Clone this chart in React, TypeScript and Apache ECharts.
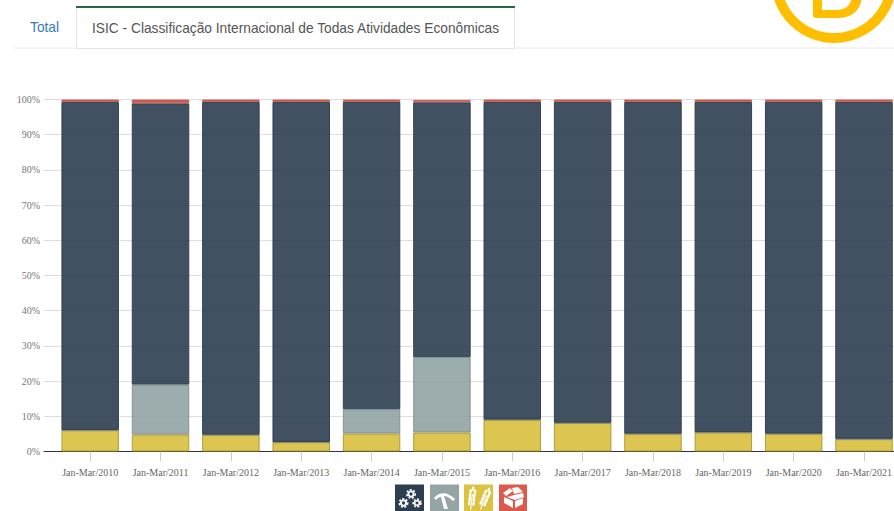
import React, { useEffect, useRef } from "react";
import * as echarts from "echarts";

const categories = ["Jan-Mar/2010","Jan-Mar/2011","Jan-Mar/2012","Jan-Mar/2013","Jan-Mar/2014","Jan-Mar/2015","Jan-Mar/2016","Jan-Mar/2017","Jan-Mar/2018","Jan-Mar/2019","Jan-Mar/2020","Jan-Mar/2021"];
const agriculture = [6.0, 4.8, 4.7, 2.6, 5.1, 5.4, 9.0, 8.1, 5.0, 5.4, 5.0, 3.5];
const mining = [0.1, 14.2, 0.1, 0.1, 6.9, 21.4, 0.1, 0.1, 0.1, 0.1, 0.1, 0.1];
const industry = [93.2, 79.9, 94.5, 96.6, 87.3, 72.4, 90.2, 91.1, 94.2, 93.8, 94.2, 95.7];
const other = [0.7, 1.1, 0.7, 0.7, 0.7, 0.7, 0.7, 0.7, 0.7, 0.7, 0.7, 0.7];
const yTicks = [0, 10, 20, 30, 40, 50, 60, 70, 80, 90, 100];

const logoB = "M813,-6 L813,15 Q813,18 816,18 L838,18 C853,18 862,9 862,-6 L852,-6 C852,4 847,10 836,10 L822,10 L822,-6 Z";
const pickHead = "M434,498 C439,492 447,491 455,499 L453,501 C449,497 446,496 444,496 L448,509 L444,509 L441,497 C439,497 437,498 436,500 Z";
echarts.graphic.registerShape("logoB", echarts.graphic.extendPath(logoB, {}));
echarts.graphic.registerShape("pickHead", echarts.graphic.extendPath(pickHead, {}));

const white = { fill: "#fff" };
const serif = "'Liberation Serif', serif";

function gear(x: number, y: number, r: number) {
  return [
    { type: "ring", silent: true, shape: { cx: x, cy: y, r: r, r0: r * 0.45 }, style: white },
    { type: "circle", silent: true, shape: { cx: x, cy: y, r: r + 0.6 }, style: { fill: "none", stroke: "#fff", lineWidth: 1.6, lineDash: [2, 1.6] } },
  ];
}
function wheat(x: number, y: number, rot: number) {
  const g: any[] = [{ type: "line", shape: { x1: 0, y1: -4, x2: 0, y2: 12 }, style: { stroke: "#fff", lineWidth: 1.2 } }];
  [-6.5, -2.5, 1.5, 5.5].forEach((dy) => {
    [-2.2, 2.2].forEach((dx) => {
      g.push({ type: "ellipse", shape: { cx: dx, cy: dy, rx: 1.3, ry: 2.2 }, style: white });
    });
  });
  g.push({ type: "ellipse", shape: { cx: 0, cy: -9.5, rx: 1.3, ry: 2.4 }, style: white });
  return { type: "group", silent: true, x, y, rotation: rot, children: g };
}

const graphic: any[] = [
  { type: "line", silent: true, shape: { x1: 14, y1: 48, x2: 894, y2: 48 }, style: { stroke: "#e8e8e8", lineWidth: 1 } },
  { type: "rect", silent: true, shape: { x: 76.5, y: 7, width: 438, height: 41.5 }, style: { fill: "#fff", stroke: "#e4e4e4", lineWidth: 1 } },
  { type: "rect", silent: true, shape: { x: 76, y: 6, width: 439, height: 2 }, style: { fill: "#1e6b3c" } },
  { type: "text", silent: true, x: 30, y: 20, style: { text: "Total", fill: "#337ab7", font: "13.75px 'Liberation Sans', Arial, sans-serif" } },
  { type: "text", silent: true, x: 92, y: 21, style: { text: "ISIC - Classificação Internacional de Todas Atividades Econômicas", fill: "#555", font: "13.75px 'Liberation Sans', Arial, sans-serif" } },
  { type: "circle", silent: true, shape: { cx: 834, cy: -20, r: 58 }, style: { fill: "none", stroke: "#ffbf00", lineWidth: 10 } },
  { type: "logoB", silent: true, style: { fill: "#ffbf00" } },

  { type: "rect", silent: true, shape: { x: 395, y: 484.5, width: 29, height: 27 }, style: { fill: "#2c3e50" } },
  { type: "rect", silent: true, shape: { x: 430, y: 484.5, width: 29, height: 27 }, style: { fill: "#95a5a6" } },
  { type: "rect", silent: true, shape: { x: 464, y: 484.5, width: 29, height: 27 }, style: { fill: "#dcc23f" } },
  { type: "rect", silent: true, shape: { x: 499, y: 484.5, width: 28, height: 27 }, style: { fill: "#dc5a4c" } },
  ...gear(411, 494, 3.6),
  ...gear(403.5, 503, 3.6),
  ...gear(417, 503, 3.3),
  { type: "pickHead", silent: true, style: white },
  wheat(472, 498, -0.12),
  wheat(485, 498.5, -0.4),
  { type: "polygon", silent: true, shape: { points: [[503,493],[510,488],[513,491],[506,496]] }, style: white },
  { type: "polygon", silent: true, shape: { points: [[512,488],[518,487],[523,492],[514,494]] }, style: white },
  { type: "polygon", silent: true, shape: { points: [[507,497],[514,495],[523,493],[524,497],[515,500]] }, style: white },
  { type: "polygon", silent: true, shape: { points: [[504,497],[513,501],[513,508],[504,503]] }, style: white },
  { type: "polygon", silent: true, shape: { points: [[515,501],[523,498],[523,504],[515,508]] }, style: white },
];

function bar(name: string, data: number[], color: string, border: string) {
  return {
    name, type: "bar", data, stack: "share", xAxisIndex: 1, yAxisIndex: 1, barWidth: 57.5,
    itemStyle: { color, borderColor: border, borderWidth: 1 },
  };
}

export default function App() {
  const ref = useRef<HTMLDivElement>(null);
  useEffect(() => {
    document.body.style.margin = "0";
    const chart = echarts.init(ref.current!, null, { renderer: "svg" });
    chart.setOption({
      animation: false,
      backgroundColor: "#fff",
      grid: [
        { left: 44, right: 0, top: 99.5, height: 352, outerBoundsMode: "none" },
        { left: 55, width: 844.2, top: 99.5, height: 352, outerBoundsMode: "none" },
      ],
      xAxis: [
        { gridIndex: 0, type: "value", min: 0, max: 1, axisLabel: { show: false }, axisTick: { show: false }, splitLine: { show: false }, axisLine: { show: true, onZero: false, lineStyle: { color: "#333", width: 1 } } },
        {
          gridIndex: 1, type: "category", data: categories,
          axisLine: { show: true, onZero: false, lineStyle: { color: "rgba(0,0,0,0)" } },
          axisTick: { show: true, alignWithLabel: true, length: 10, lineStyle: { color: "#ccc", width: 1 } },
          axisLabel: { color: "#666", fontFamily: serif, fontSize: 10, margin: 16, interval: 0 },
        },
      ],
      yAxis: [
        {
          gridIndex: 0, type: "value", min: 0, max: 100, interval: 10,
          axisLabel: { color: "#777", fontFamily: serif, fontSize: 10, margin: 4, formatter: (v: number) => (yTicks.includes(v) ? v + "%" : "") },
          axisLine: { show: false }, axisTick: { show: false },
          splitLine: { lineStyle: { color: "#ddd", width: 1 } },
        },
        { gridIndex: 1, type: "value", min: 0, max: 100, show: false },
      ],
      graphic,
      series: [
        bar("Agricultura", agriculture, "rgba(217,191,62,0.9)", "rgba(170,150,50,0.9)"),
        bar("Extrativa", mining, "rgba(140,157,158,0.85)", "rgba(120,135,135,0.8)"),
        bar("Indústria", industry, "rgba(44,62,80,0.9)", "rgba(44,62,80,0.95)"),
        bar("Outros", other, "rgba(203,80,68,0.95)", "rgba(203,90,80,0.9)"),
      ],
    });
    return () => chart.dispose();
  }, []);
  return <div ref={ref} style={{ position: "absolute", left: 0, top: 0, width: 894, height: 511, overflow: "hidden" }} />;
}
